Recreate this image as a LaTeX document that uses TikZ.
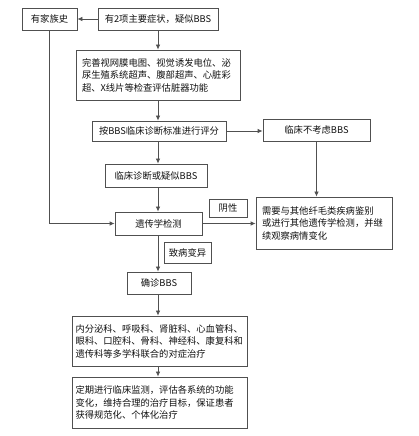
\documentclass[tikz,border=0pt]{standalone}
\usepackage{fontspec}
\setmainfont{Noto Sans CJK SC}
\usetikzlibrary{arrows.meta,calc}
\definecolor{linegray}{HTML}{505050}
\definecolor{txtgray}{HTML}{111111}
\begin{document}
\begin{tikzpicture}[x=1pt,y=1pt,
  every node/.style={font=\fontsize{9.3}{12.5}\selectfont, text=txtgray},
  box/.style={draw=linegray, line width=0.8pt, rectangle, inner sep=0pt, align=center},
  mbox/.style={draw=linegray, line width=0.8pt, rectangle, inner ysep=0pt, align=left},
  conn/.style={draw=linegray, line width=0.8pt, -{Latex[length=5pt,width=4.5pt]}}
]
\useasboundingbox (0,0) rectangle (419,436);
\fill[white] (0,0) rectangle (419,436);

\node[box, minimum width=55, minimum height=22] (fam) at (49.5,417) {有家族史};
\node[box, minimum width=120, minimum height=22] (sym) at (158,417) {有2项主要症状，疑似BBS};
\node[mbox, inner xsep=6, text width=152, minimum height=50] (exam) at (158,361)
  {完善视网膜电图、视觉诱发电位、泌\\尿生殖系统超声、腹部超声、心脏彩\\超、X线片等检查评估脏器功能};
\node[box, minimum width=134, minimum height=20] (score) at (159,305) {按BBS临床诊断标准进行评分};
\node[box, minimum width=107, minimum height=22] (notc) at (316.5,306) {临床不考虑BBS};
\node[box, minimum width=102, minimum height=23] (diag) at (156,260.5) {临床诊断或疑似BBS};
\node[box, minimum width=38, minimum height=18] (neg) at (228,228) {阴性};
\node[mbox, inner xsep=6, text width=124, minimum height=52] (other) at (324,213)
  {需要与其他纤毛类疾病鉴别\\或进行其他遗传学检测，并继\\续观察病情变化};
\node[box, minimum width=87, minimum height=23] (gene) at (158.5,212.5) {遗传学检测};
\node[box, minimum width=47, minimum height=21] (path) at (187.5,183.5) {致病变异};
\node[box, minimum width=64, minimum height=22] (conf) at (159,153) {确诊BBS};
\node[mbox, inner xsep=3.5, text width=168, minimum height=50] (treat) at (159.5,95)
  {内分泌科、呼吸科、肾脏科、心血管科、\\眼科、口腔科、骨科、神经科、康复科和\\遗传科等多学科联合的对症治疗};
\node[mbox, inner xsep=3.5, text width=168, minimum height=51] (mon) at (159.5,33.5)
  {定期进行临床监测，评估各系统的功能\\变化，维持合理的治疗目标，保证患者\\获得规范化、个体化治疗};

\coordinate (ax) at (158,0);
\draw[conn] (sym.west) -- (fam.east);
\draw[conn] (sym.south -| ax) -- (exam.north -| ax);
\draw[conn] (exam.south -| ax) -- (score.north -| ax);
\draw[conn] (score.east) -- (notc.west |- score.east);
\draw[conn] (score.south -| ax) -- (diag.north -| ax);
\draw[conn] (notc.south) -- (other.north -| notc.south);
\draw[conn] (diag.south -| ax) -- (gene.north -| ax);
\draw[conn] (fam.south) |- (gene.west);
\draw[conn] (gene.east) -- (other.west |- gene.east);
\draw[conn] (gene.south -| ax) -- (conf.north -| ax);
\draw[conn] (conf.south -| ax) -- (treat.north -| ax);
\draw[conn] (treat.south -| ax) -- (mon.north -| ax);
\end{tikzpicture}
\end{document}
